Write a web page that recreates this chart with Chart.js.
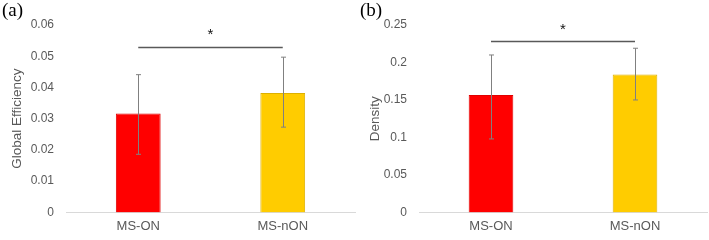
<!DOCTYPE html>
<html>
<head>
<meta charset="utf-8">
<script src="https://cdn.jsdelivr.net/npm/chart.js@4.4.1/dist/chart.umd.min.js"></script>
<style>
  body { margin: 0; background: #fff; }
  #wrap { position: relative; width: 709px; height: 240px; }
  .panel { position: absolute; top: 0; height: 240px; }
  .tag { position: absolute; top: -1px; font-family: 'Liberation Serif', serif; font-size: 19px; color: #000; }
</style>
</head>
<body>
<div id="wrap">
  <div class="panel" style="left:0;width:360px"><canvas id="chartA"></canvas></div>
  <div class="panel" style="left:360px;width:349px"><canvas id="chartB"></canvas></div>
  <div class="tag" style="left:2px">(a)</div>
  <div class="tag" style="left:360px">(b)</div>
</div>
<script>
// datos
const grupos = ['MS-ON', 'MS-nON'];
const colores = ['#FF0000', '#FFCC00'];
const bordes = ['#E00000', '#DDB000'];

const eficiencia = [0.0317, 0.0382];
const eficienciaAlto = [0.0441, 0.0497];
const eficienciaBajo = [0.0186, 0.0273];
const eficienciaTicks = ['0', '0.01', '0.02', '0.03', '0.04', '0.05', '0.06'];
const eficienciaSig = 0.0531;
const eficienciaEstrella = 0.0575;

const densidad = [0.1565, 0.184];
const densidadAlto = [0.21, 0.219];
const densidadBajo = [0.098, 0.150];
const densidadTicks = ['0', '0.05', '0.1', '0.15', '0.2', '0.25'];
const densidadSig = 0.228;
const densidadEstrella = 0.246;

const gris = '#595959';

// barras de error y linea de significancia
const extras = {
  id: 'extras',
  afterDatasetsDraw(chart, args, opts) {
    const ctx = chart.ctx;
    const y = chart.scales.y;
    const barras = chart.getDatasetMeta(0).data;
    ctx.save();
    ctx.strokeStyle = '#808080';
    ctx.lineWidth = 1;
    barras.forEach((b, i) => {
      const x = Math.round(b.x) + 0.5;
      const y1 = y.getPixelForValue(opts.alto[i]);
      const y2 = y.getPixelForValue(opts.bajo[i]);
      ctx.beginPath();
      ctx.moveTo(x, y1); ctx.lineTo(x, y2);
      ctx.moveTo(x - 2.5, y1); ctx.lineTo(x + 2.5, y1);
      ctx.moveTo(x - 2.5, y2); ctx.lineTo(x + 2.5, y2);
      ctx.stroke();
    });
    const ys = Math.round(y.getPixelForValue(opts.sig)) + 0.5;
    ctx.strokeStyle = gris;
    ctx.lineWidth = 1.3;
    ctx.beginPath();
    ctx.moveTo(barras[0].x, ys);
    ctx.lineTo(barras[1].x, ys);
    ctx.stroke();
    ctx.fillStyle = '#111';
    ctx.font = '15px "Liberation Sans", Arial';
    ctx.textAlign = 'center';
    ctx.textBaseline = 'middle';
    ctx.fillText('*', (barras[0].x + barras[1].x) / 2, y.getPixelForValue(opts.estrella) + 2);
    ctx.restore();
  }
};

function crearGrafico(id, valores, alto, bajo, etiquetas, maximo, paso, titulo, anchoEje, tituloPad, padDer, sig, estrella) {
  const ctx = document.getElementById(id).getContext('2d');
  return new Chart(ctx, {
    type: 'bar',
    data: {
      labels: grupos,
      datasets: [{
        data: valores,
        backgroundColor: colores,
        borderColor: bordes,
        borderWidth: 1,
        categoryPercentage: 1,
        barPercentage: 0.31
      }]
    },
    options: {
      responsive: true,
      maintainAspectRatio: false,
      animation: false,
      layout: { padding: { top: 25, right: padDer, left: 0, bottom: 0 } },
      plugins: {
        legend: { display: false },
        tooltip: { enabled: false },
        extras: { alto: alto, bajo: bajo, sig: sig, estrella: estrella }
      },
      scales: {
        x: {
          grid: { display: false, drawTicks: false },
          border: { color: '#D9D9D9', width: 1 },
          ticks: { color: gris, padding: 6, font: { family: '"Liberation Sans", Arial', size: 13 } }
        },
        y: {
          min: 0,
          max: maximo,
          grid: { display: false, drawTicks: false },
          border: { display: false },
          afterFit(scale) { scale.width = anchoEje; },
          ticks: {
            stepSize: paso,
            padding: 12,
            color: gris,
            font: { family: '"Liberation Sans", Arial', size: 12 },
            callback: (v, i) => etiquetas[i]
          },
          title: {
            display: true,
            text: titulo,
            color: gris,
            padding: { top: tituloPad, bottom: 0 },
            font: { family: '"Liberation Sans", Arial', size: 13.5 }
          }
        }
      }
    },
    plugins: [extras]
  });
}

crearGrafico('chartA', eficiencia, eficienciaAlto, eficienciaBajo, eficienciaTicks, 0.06, 0.01,
  'Global Efficiency', 66, 9, 5, eficienciaSig, eficienciaEstrella);
crearGrafico('chartB', densidad, densidadAlto, densidadBajo, densidadTicks, 0.25, 0.05,
  'Density', 59, 7, 2, densidadSig, densidadEstrella);
</script>
</body>
</html>
